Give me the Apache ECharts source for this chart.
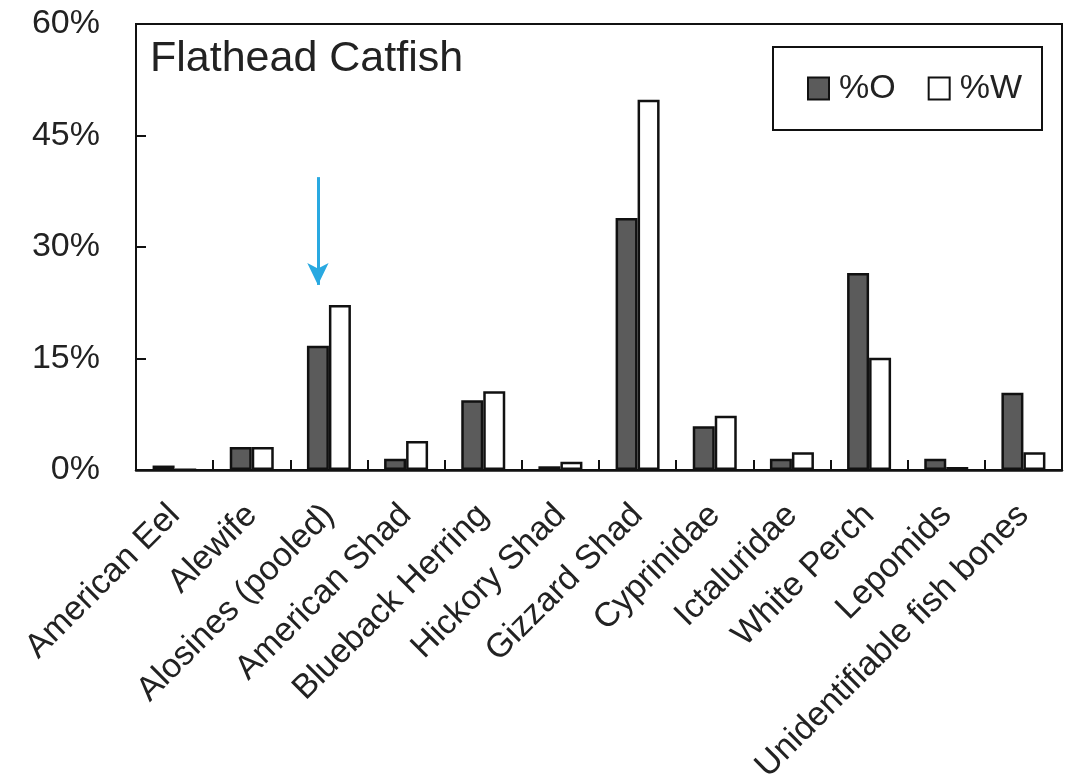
<!DOCTYPE html>
<html><head><meta charset="utf-8">
<script src="https://cdn.jsdelivr.net/npm/echarts@6/dist/echarts.min.js"></script>
<style>html,body{margin:0;padding:0;background:#fff}#c{width:1073px;height:775px}</style>
</head><body><div id="c"></div>
<script>
const categories = ["American Eel","Alewife","Alosines (pooled)","American Shad","Blueback Herring","Hickory Shad","Gizzard Shad","Cyprinidae","Ictaluridae","White Perch","Lepomids","Unidentifiable fish bones"];
const pctO = [0.6, 3.1, 16.7, 1.5, 9.4, 0.5, 33.9, 5.9, 1.5, 26.5, 1.5, 10.4];
const pctW = [0.1, 3.1, 22.2, 3.9, 10.6, 1.1, 49.8, 7.3, 2.4, 15.1, 0.4, 2.4];
const yTicks = [0, 15, 30, 45, 60];
const arrowTarget = {category: "Alosines (pooled)", from: 39.4, to: 24.9};
const FONT = "Liberation Sans";
const chart = echarts.init(document.getElementById('c'));
chart.setOption({
  animation: false,
  textStyle: {fontFamily: FONT},
  title: {text: "Flathead Catfish", left: 145, top: 33, textStyle: {fontFamily: FONT, fontSize: 43, fontWeight: 'normal', color: '#222'}},
  legend: {
    left: 773, top: 47, padding: [24, 20, 24, 34], itemGap: 32,
    borderColor: '#111', borderWidth: 2, itemWidth: 21, itemHeight: 22,
    textStyle: {fontFamily: FONT, fontSize: 34, lineHeight: 35, color: '#222', padding: [0,0,0,5]},
    data: [{name: '%O', icon: 'rect'}, {name: '%W', icon: 'rect'}]
  },
  grid: {left: 136, right: 11, top: 24, bottom: 305, show: true, borderColor: '#111', borderWidth: 2,
         containLabel: false, outerBoundsMode: 'none'},
  xAxis: {
    type: 'category', data: categories,
    axisLine: {lineStyle: {color: '#111', width: 2.5}},
    axisTick: {show: true, inside: true, length: 10, lineStyle: {color: '#111', width: 2}},
    axisLabel: {rotate: 45, fontSize: 34, color: '#222', margin: 40, interval: 0, fontFamily: FONT, hideOverlap: false}
  },
  yAxis: {
    type: 'value', min: yTicks[0], max: yTicks[yTicks.length-1], interval: 15,
    axisLine: {show: true, lineStyle: {color: '#111', width: 2}},
    axisTick: {show: true, inside: true, length: 10, lineStyle: {color: '#111', width: 2}},
    splitLine: {show: false},
    axisLabel: {formatter: v => v + '%', fontSize: 34, color: '#222', margin: 36, fontFamily: FONT}
  },
  series: [
    {name: '%O', type: 'bar', data: pctO, barWidth: 22, barGap: '0%',
     itemStyle: {color: '#5b5b5b', borderColor: '#111', borderWidth: 2.5},
     markLine: {silent: true, symbol: ['none', 'arrow'], symbolSize: [16, 22],
       label: {show: false},
       lineStyle: {color: '#29a9e1', width: 3, type: 'solid'},
       data: [[{coord: [arrowTarget.category, arrowTarget.from]}, {coord: [arrowTarget.category, arrowTarget.to]}]]}
    },
    {name: '%W', type: 'bar', data: pctW, barWidth: 22,
     itemStyle: {color: '#ffffff', borderColor: '#111', borderWidth: 2.5}}
  ]
});
</script></body></html>
